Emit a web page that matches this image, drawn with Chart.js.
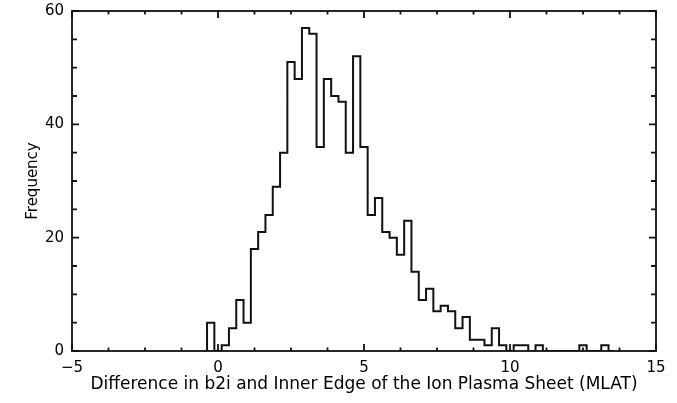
<!DOCTYPE html>
<html>
<head>
<meta charset="utf-8">
<script src="https://cdn.jsdelivr.net/npm/chart.js@4"></script>
<style>
  html, body { margin: 0; padding: 0; background: #fff; }
  #wrap { width: 677px; height: 403px; }
</style>
</head>
<body>
<div id="wrap"><canvas id="hist" width="677" height="403"></canvas></div>
<script>
// bin centres (MLAT difference) and the counts
const binCenters = [
  -0.5, -0.25, 0, 0.25, 0.5, 0.75, 1.0, 1.25, 1.5, 1.75,
  2.0, 2.25, 2.5, 2.75, 3.0, 3.25, 3.5, 3.75, 4.0, 4.25,
  4.5, 4.75, 5.0, 5.25, 5.5, 5.75, 6.0, 6.25, 6.5, 6.75,
  7.0, 7.25, 7.5, 7.75, 8.0, 8.25, 8.5, 8.75, 9.0, 9.25,
  9.5, 9.75, 10.0, 10.25, 10.5, 10.75, 11.0, 11.25, 11.5, 11.75,
  12.0, 12.25, 12.5, 12.75, 13.0, 13.25, 13.5
];
const counts = [
  0, 5, 0, 1, 4, 9, 5, 18, 21, 24,
  29, 35, 51, 48, 57, 56, 36, 48, 45, 44,
  35, 52, 36, 24, 27, 21, 20, 17, 23, 14,
  9, 11, 7, 8, 7, 4, 6, 2, 2, 1,
  4, 1, 0, 1, 1, 0, 1, 0, 0, 0,
  0, 0, 1, 0, 0, 1, 0
];

// axis ticks (IDL style: all four sides, pointing in)
const xTickValues = [-5, -3.75, -2.5, -1.25, 0, 1.25, 2.5, 3.75, 5, 6.25, 7.5, 8.75, 10, 11.25, 12.5, 13.75, 15];
const xMajorTicks = [-5, 0, 5, 10, 15];
const yTickValues = [0, 5, 10, 15, 20, 25, 30, 35, 40, 45, 50, 55, 60];
const yMajorTicks = [0, 20, 40, 60];

const xTitle = 'Difference in b2i and Inner Edge of the Ion Plasma Sheet (MLAT)';
const yTitle = 'Frequency';

const tickFont = { family: 'DejaVu Sans', size: 15 };

// draws the box round the plot and the inward ticks
const frameTicks = {
  id: 'frameTicks',
  afterDraw(chart) {
    const { ctx, chartArea: a, scales } = chart;
    ctx.save();
    ctx.strokeStyle = '#111';
    ctx.lineWidth = 1.8;
    ctx.strokeRect(a.left, a.top, a.right - a.left, a.bottom - a.top);
    ctx.beginPath();
    for (const v of xTickValues) {
      const px = scales.x.getPixelForValue(v);
      const len = xMajorTicks.includes(v) ? 7 : 3.5;
      ctx.moveTo(px, a.bottom); ctx.lineTo(px, a.bottom - len);
      ctx.moveTo(px, a.top); ctx.lineTo(px, a.top + len);
    }
    for (const v of yTickValues) {
      const py = scales.y.getPixelForValue(v);
      const len = yMajorTicks.includes(v) ? 7 : 5;
      ctx.moveTo(a.left, py); ctx.lineTo(a.left + len, py);
      ctx.moveTo(a.right, py); ctx.lineTo(a.right - len, py);
    }
    ctx.stroke();
    ctx.restore();
  }
};

new Chart(document.getElementById('hist'), {
  type: 'line',
  data: {
    datasets: [{
      data: binCenters.map((x, i) => ({ x: x, y: counts[i] })),
      stepped: 'middle',
      borderColor: '#111',
      borderWidth: 2,
      pointRadius: 0,
      fill: false
    }]
  },
  options: {
    responsive: false,
    animation: false,
    layout: { padding: { left: 0, right: 21, top: 11, bottom: 0 } },
    plugins: { legend: { display: false }, tooltip: { enabled: false } },
    scales: {
      x: {
        type: 'linear',
        min: -5,
        max: 15,
        grid: { display: false, drawTicks: false },
        border: { display: false },
        ticks: {
          stepSize: 5,
          autoSkip: false,
          maxRotation: 0,
          padding: 8,
          color: '#000',
          font: tickFont,
          callback: (v) => (v < 0 ? '\u2212' + Math.abs(v) : String(v))
        },
        title: {
          display: true,
          text: xTitle,
          color: '#000',
          font: { family: 'DejaVu Sans', size: 17 },
          padding: { top: 0, bottom: 8 }
        },
        afterFit(scale) {
          scale.height = 52;
          scale.paddingLeft = 0;
          scale.paddingRight = 0;
        }
      },
      y: {
        min: 0,
        max: 60,
        grid: { display: false, drawTicks: false },
        border: { display: false },
        ticks: {
          stepSize: 20,
          padding: 8,
          color: '#000',
          font: tickFont
        },
        title: {
          display: true,
          text: yTitle,
          color: '#000',
          font: { family: 'DejaVu Sans', size: 15 },
          padding: { top: 24, bottom: 0 }
        },
        afterFit(scale) {
          scale.width = 72;
          scale.paddingTop = 0;
          scale.paddingBottom = 0;
        }
      }
    }
  },
  plugins: [frameTicks]
});
</script>
</body>
</html>
